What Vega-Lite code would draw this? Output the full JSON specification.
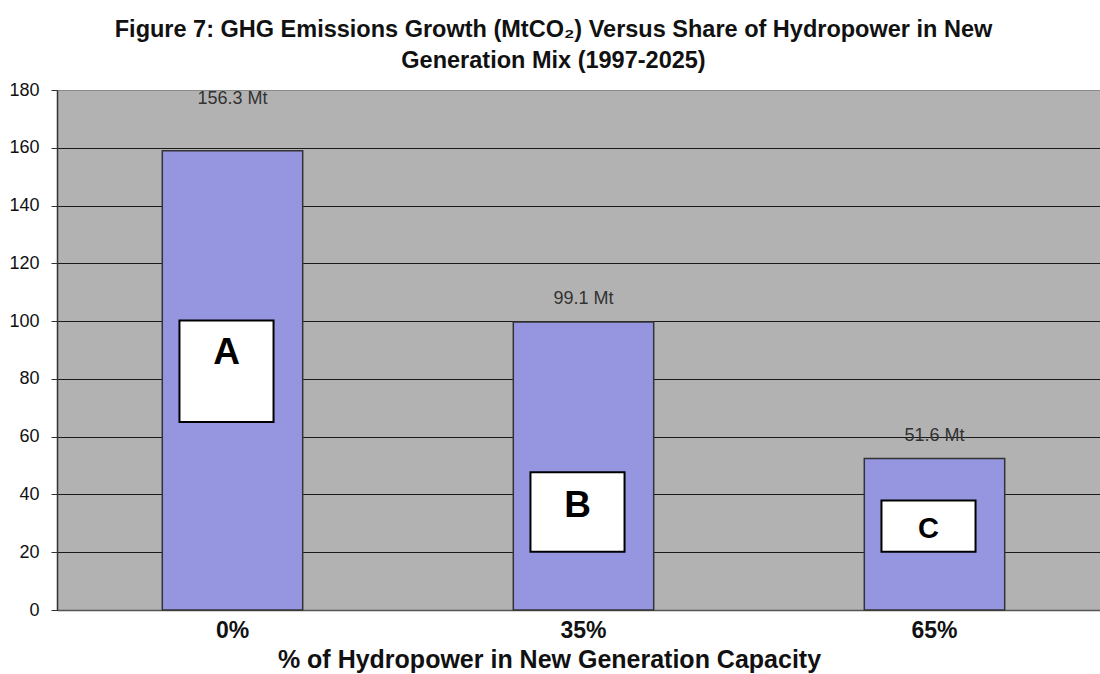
{
  "$schema": "https://vega.github.io/schema/vega-lite/v6.json",
  "width": 1043,
  "height": 520,
  "autosize": {"type": "none"},
  "padding": {"left": 57, "top": 90, "right": 0, "bottom": 64},
  "background": "white",
  "title": {
    "text": ["Figure 7: GHG Emissions Growth (MtCO₂) Versus Share of Hydropower in New", "Generation Mix (1997-2025)"],
    "font": "Liberation Sans",
    "fontSize": 23.5,
    "fontWeight": "bold",
    "color": "#111111",
    "lineHeight": 31,
    "offset": 9,
    "dx": -25,
    "anchor": "middle"
  },
  "data": {
    "values": [
      {"share": "0%", "value": 159.0, "label": "156.3 Mt", "labelY": 176.9, "box": "A", "boxTop": 100.2, "boxBottom": 65.1, "letterY": 89.1},
      {"share": "35%", "value": 99.7, "label": "99.1 Mt", "labelY": 107.7, "box": "B", "boxTop": 47.7, "boxBottom": 20.2, "letterY": 35.9},
      {"share": "65%", "value": 52.4, "label": "51.6 Mt", "labelY": 60.4, "box": "C", "boxTop": 37.9, "boxBottom": 20.2, "letterY": 27.9}
    ]
  },
  "encoding": {
    "x": {
      "field": "share",
      "type": "nominal",
      "sort": null,
      "scale": {"range": [0, 1053], "paddingInner": 0, "paddingOuter": 0},
      "axis": {
        "title": "% of Hydropower  in New Generation Capacity",
        "titleFont": "Liberation Sans",
        "titleFontSize": 25,
        "titleFontWeight": "bold",
        "titleColor": "#111111",
        "titleX": 492,
        "titlePadding": 5,
        "labelFont": "Liberation Sans",
        "labelFontSize": 23,
        "labelFontWeight": "bold",
        "labelColor": "#111111",
        "labelAngle": 0,
        "labelPadding": 9,
        "ticks": false,
        "domainColor": "#555555",
        "domainWidth": 1.5,
        "grid": false
      }
    }
  },
  "layer": [
    {
      "mark": {"type": "bar", "fill": "#9595e0", "stroke": "#333333", "strokeWidth": 1.5, "width": {"band": 0.4}},
      "encoding": {
        "y": {
          "field": "value",
          "type": "quantitative",
          "scale": {"domain": [0, 180], "nice": false, "zero": true},
          "axis": {
            "title": null,
            "values": [0, 20, 40, 60, 80, 100, 120, 140, 160, 180],
            "labelFont": "Liberation Sans",
            "labelFontSize": 18,
            "labelColor": "#111111",
            "labelPadding": 12,
            "tickSize": 6,
            "tickColor": "#333333",
            "domainColor": "#333333",
            "domainWidth": 1.5,
            "grid": true,
            "gridColor": {"condition": {"test": "datum.value === 180", "value": "#8a8a8a"}, "value": "#1a1a1a"},
            "gridWidth": 1.2
          }
        }
      }
    },
    {
      "mark": {"type": "text", "font": "Liberation Sans", "fontSize": 18, "color": "#333333", "baseline": "middle", "align": "center"},
      "encoding": {
        "y": {"field": "labelY", "type": "quantitative"},
        "text": {"field": "label"}
      }
    },
    {
      "mark": {"type": "bar", "fill": "white", "stroke": "#000000", "strokeWidth": 2, "width": {"band": 0.268}, "xOffset": -6},
      "encoding": {
        "y": {"field": "boxTop", "type": "quantitative"},
        "y2": {"field": "boxBottom"}
      }
    },
    {
      "mark": {"type": "text", "font": "Liberation Sans", "fontWeight": "bold", "color": "#000000", "baseline": "middle", "align": "center", "xOffset": -6},
      "encoding": {
        "y": {"field": "letterY", "type": "quantitative"},
        "text": {"field": "box"},
        "size": {"condition": {"test": "datum.box === 'C'", "value": 29}, "value": 37}
      }
    }
  ],
  "config": {
    "view": {"fill": "#b2b2b2", "stroke": "#8a8a8a", "strokeWidth": 1}
  }
}
